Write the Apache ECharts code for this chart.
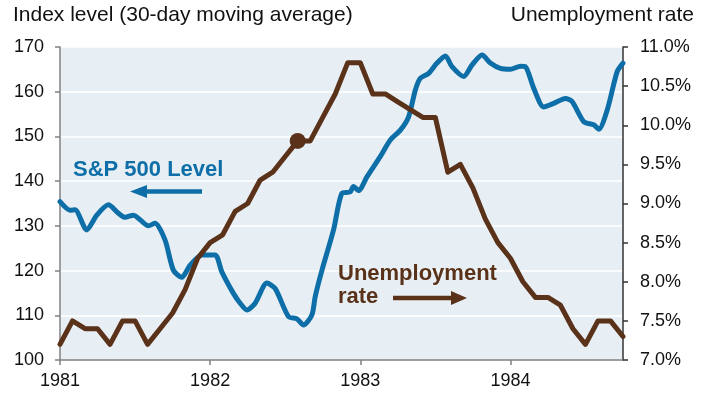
<!DOCTYPE html>
<html>
<head>
<meta charset="utf-8">
<script src="https://cdn.jsdelivr.net/npm/echarts@6/dist/echarts.min.js"></script>
<style>
html,body{margin:0;padding:0;background:#fff;}
#chart{width:715px;height:402px;}
</style>
</head>
<body>
<div id="chart"></div>
<script>
// X axis tick labels (years)
const yearTicks = [1981, 1982, 1983, 1984];

// S&P 500 level, 30-day moving average (decimal-year dates, index level)
const spDates = [1981.000,1981.067,1981.100,1981.178,1981.245,1981.322,1981.389,1981.433,1981.489,1981.589,1981.633,1981.700,1981.755,1981.811,1981.867,1981.945,1982.033,1982.078,1982.155,1982.200,1982.245,1982.300,1982.378,1982.433,1982.522,1982.578,1982.622,1982.678,1982.700,1982.745,1982.822,1982.878,1982.933,1982.955,1982.989,1983.045,1983.133,1983.200,1983.267,1983.322,1983.367,1983.400,1983.455,1983.511,1983.567,1983.611,1983.689,1983.745,1983.811,1983.867,1983.933,1984.000,1984.067,1984.100,1984.155,1984.222,1984.289,1984.367,1984.411,1984.489,1984.555,1984.589,1984.645,1984.711,1984.750];
const spLevels = [135.4,133.5,133.6,129.1,132.4,134.7,132.8,131.9,132.4,130.0,130.6,126.8,120.1,118.5,121.2,123.5,123.5,119.7,114.9,112.7,111.2,112.7,117.2,116.0,109.7,109.2,107.8,110.1,114.2,120.1,129.1,137.3,137.6,138.8,137.9,141.0,145.5,149.2,151.4,154.4,160.4,163.0,164.1,166.4,168.0,165.6,163.4,166.0,168.2,166.4,165.2,165.0,165.7,165.6,160.8,156.6,157.4,158.5,157.8,153.3,152.6,151.6,155.9,164.5,166.4];

// Unemployment rate, monthly (%), first point at 1981
const unempValues = [7.2,7.5,7.4,7.4,7.2,7.5,7.5,7.2,7.4,7.6,7.9,8.3,8.5,8.6,8.9,9.0,9.3,9.4,9.6,9.8,9.8,10.1,10.4,10.8,10.8,10.4,10.4,10.3,10.2,10.1,10.1,9.4,9.5,9.2,8.8,8.5,8.3,8.0,7.8,7.8,7.7,7.4,7.2,7.5,7.5,7.3];
const highlightIndex = 19;

// Axis tick ranges
const leftTicks = {min: 100, max: 170, interval: 10};
const rightTicks = {min: 7, max: 11, interval: 0.5};

const BLUE = '#0E6EA8';
const BROWN = '#5A3219';
const FONT = '"Liberation Sans", Arial, sans-serif';

const spData = spDates.map((d, i) => [d, spLevels[i]]);
const unempData = unempValues.map((v, i) => [yearTicks[0] + i / 12, v]);

const chart = echarts.init(document.getElementById('chart'), null, {renderer: 'canvas'});
chart.setOption({
  animation: false,
  backgroundColor: '#ffffff',
  grid: {
    left: 60, right: 92, top: 47, bottom: 42,
    show: true, backgroundColor: '#E8EFF4', borderWidth: 0
  },
  xAxis: {
    type: 'value',
    min: yearTicks[0],
    max: 1984.75,
    interval: 1,
    splitLine: {show: false},
    axisLine: {lineStyle: {color: '#808080', width: 1.5}},
    axisTick: {show: true, inside: false, length: 5, lineStyle: {color: '#808080', width: 1.5}},
    axisLabel: {
      margin: 12, fontSize: 18, color: '#111', fontFamily: FONT,
      showMaxLabel: false,
      formatter: v => (yearTicks.indexOf(Math.round(v * 1000) / 1000) >= 0 ? String(Math.round(v)) : '')
    }
  },
  yAxis: [
    {
      type: 'value', position: 'left',
      min: leftTicks.min, max: leftTicks.max, interval: leftTicks.interval,
      axisLine: {show: true, lineStyle: {color: '#808080', width: 1.5}},
      axisTick: {show: true, inside: false, length: 5, lineStyle: {color: '#808080', width: 1.5}},
      splitLine: {show: true, lineStyle: {color: '#ffffff', width: 1.5}},
      axisLabel: {margin: 16, fontSize: 18, color: '#111', fontFamily: FONT}
    },
    {
      type: 'value', position: 'right',
      min: rightTicks.min, max: rightTicks.max, interval: rightTicks.interval,
      axisLine: {show: true, lineStyle: {color: '#333333', width: 1.5}},
      axisTick: {show: true, inside: false, length: 5, lineStyle: {color: '#333333', width: 1.5}},
      splitLine: {show: false},
      axisLabel: {margin: 17, fontSize: 18, color: '#111', fontFamily: FONT,
        formatter: v => v.toFixed(1) + '%'}
    }
  ],
  series: [
    {
      name: 'S&P 500 Level', type: 'line', yAxisIndex: 0,
      data: spData, showSymbol: false, smooth: 0.25,
      lineStyle: {color: BLUE, width: 5, cap: 'round', join: 'round'},
      z: 2
    },
    {
      name: 'Unemployment rate', type: 'line', yAxisIndex: 1,
      data: unempData, showSymbol: false, smooth: false,
      lineStyle: {color: BROWN, width: 5, cap: 'round', join: 'round'},
      z: 3
    },
    {
      name: 'highlight', type: 'scatter', yAxisIndex: 1,
      data: [unempData[highlightIndex]],
      symbol: 'circle', symbolSize: 16,
      itemStyle: {color: BROWN, opacity: 1},
      z: 4
    }
  ],
  graphic: [
    {type: 'text', z: 100, left: 13, top: 5, style: {text: 'Index level (30-day moving average)', font: '21px ' + FONT, fill: '#111'}},
    {type: 'text', z: 100, right: 21, top: 5, style: {text: 'Unemployment rate', font: '21px ' + FONT, fill: '#111'}},
    {type: 'text', z: 100, left: 73, top: 159, style: {text: 'S&P 500 Level', font: 'bold 22px ' + FONT, fill: BLUE}},
    {type: 'line', z: 100, shape: {x1: 145, y1: 191.5, x2: 202, y2: 191.5}, style: {stroke: BLUE, lineWidth: 4.5}},
    {type: 'polygon', z: 100, shape: {points: [[130, 191.5], [147, 185], [147, 198]]}, style: {fill: BLUE}},
    {type: 'text', z: 100, left: 338, top: 263, style: {text: 'Unemployment', font: 'bold 22px ' + FONT, fill: BROWN}},
    {type: 'text', z: 100, left: 338, top: 286, style: {text: 'rate', font: 'bold 22px ' + FONT, fill: BROWN}},
    {type: 'line', z: 100, shape: {x1: 393, y1: 298, x2: 453, y2: 298}, style: {stroke: BROWN, lineWidth: 4.5}},
    {type: 'polygon', z: 100, shape: {points: [[467, 298], [451, 291], [451, 305]]}, style: {fill: BROWN}}
  ]
});
</script>
</body>
</html>
